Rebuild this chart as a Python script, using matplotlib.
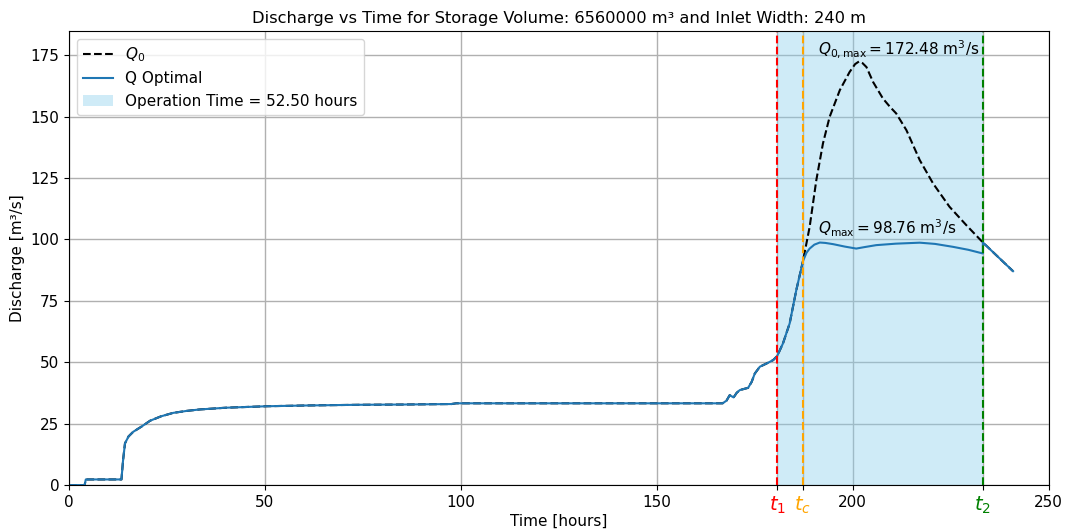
import matplotlib
matplotlib.use("Agg")
import matplotlib.pyplot as plt

# Natural inflow hydrograph Q0 (hours, m³/s)
hours = [0, 4.0, 4.3, 13.4, 13.8, 14.3, 15.2, 16.4, 18.5, 20.7, 23.5, 26.6, 30.0, 33.4,
         40.0, 50.4, 60.0, 74.2, 85.0, 97.6, 98.8,
         166.8, 167.8, 168.6, 169.6, 170.4, 171.2, 173.3, 174.2, 175.0, 176.3, 178.0,
         179.7, 180.7, 182.2, 183.9, 185.6, 187.3, 189.0, 190.7, 192.4, 194.1, 196.7,
         199.2, 200.6, 201.6, 202.5, 203.5, 205.2, 207.7, 209.5, 211.1, 213.7, 217.1,
         220.5, 224.7, 229.0, 233.2, 240.9]
q0 = [0, 0, 2.3, 2.3, 10.0, 17.0, 19.8, 21.7, 23.8, 26.2, 28.0, 29.4, 30.2, 30.8,
      31.5, 32.1, 32.4, 32.7, 32.8, 33.0, 33.3,
      33.3, 34.4, 36.6, 35.7, 37.6, 38.7, 39.6, 42.0, 45.4, 48.2, 49.5,
      50.9, 52.5, 57.7, 65.8, 79.4, 91.2, 105.1, 124.1, 139.1, 149.9, 160.8,
      168.2, 171.4, 172.48, 171.8, 170.2, 164.1, 157.4, 154.0, 151.3, 144.5, 132.3,
      122.8, 113.3, 105.8, 98.8, 87.1]

# Regulated outflow during the operation window
hours_ctrl = [187.3, 188.2, 189.0, 190.2, 191.6, 193.0, 195.0, 198.0, 200.9, 203.0,
              206.0, 211.0, 217.1, 221.0, 225.6, 229.5, 233.2]
q_ctrl = [91.2, 94.6, 96.3, 97.9, 98.76, 98.6, 98.1, 97.1, 96.3, 96.9,
          97.7, 98.3, 98.7, 98.2, 97.0, 95.8, 94.3]

t1, tc, t2 = 180.7, 187.3, 233.2
storage_volume = 6560000
inlet_width = 240

# Optimal discharge: inflow outside the window, regulated flow inside it
h_before = [h for h in hours if h < tc]
q_before = [q for h, q in zip(hours, q0) if h < tc]
h_after = [h for h in hours if h >= t2]
q_after = [q for h, q in zip(hours, q0) if h >= t2]
h_opt = h_before + hours_ctrl + h_after
q_opt = q_before + q_ctrl + q_after

plt.rcParams["font.size"] = 11
fig, ax = plt.subplots(figsize=(10.69, 5.29), dpi=100)
fig.subplots_adjust(left=0.0645, right=0.981, top=0.941, bottom=0.083)

ax.plot(hours, q0, "k--", lw=1.5, label=r"$Q_0$")
ax.plot(h_opt, q_opt, color="#1f77b4", lw=1.5, label="Q Optimal")
ax.axvspan(t1, t2, color="skyblue", alpha=0.4, lw=0,
           label=f"Operation Time = {t2 - t1:.2f} hours")
ax.axvline(t1, color="red", ls="--", lw=1.5)
ax.axvline(tc, color="orange", ls="--", lw=1.5)
ax.axvline(t2, color="green", ls="--", lw=1.5)

q0_max = max(q0)
t0_max = hours[q0.index(q0_max)]
ax.text(t0_max - 10.5, q0_max + 0.8,
        r"$Q_{0,\mathrm{max}} = 172.48$ m$^3$/s", ha="left", va="bottom")
q_max = max(q_opt)
ax.text(t0_max - 10.5, q_max + 1.2,
        r"$Q_{\mathrm{max}} = 98.76$ m$^3$/s", ha="left", va="bottom")

ticks = [0, 50, 100, 150, t1, tc, 200, t2, 250]
labels = ["0", "50", "100", "150", r"$t_1$", r"$t_c$", "200", r"$t_2$", "250"]
ax.set_xticks(ticks)
ax.set_xticklabels(labels)
for lab, c in zip(ax.get_xticklabels(), ["k", "k", "k", "k", "red", "orange", "k", "green", "k"]):
    lab.set_color(c)
    if c != "k":
        lab.set_fontsize(14)

ax.set_yticks([0, 25, 50, 75, 100, 125, 150, 175])
ax.set_xlim(0, 250)
ax.set_ylim(0, 184.8)
ax.grid(True, color="#b0b0b0", lw=1)
ax.set_axisbelow(True)
ax.set_xlabel("Time [hours]", labelpad=-2)
ax.set_ylabel("Discharge [m³/s]")
ax.set_title(f"Discharge vs Time for Storage Volume: {storage_volume} m³ and Inlet Width: {inlet_width} m",
             fontsize=11.7)
ax.legend(loc="upper left")

fig.savefig("out.png", dpi=100)
